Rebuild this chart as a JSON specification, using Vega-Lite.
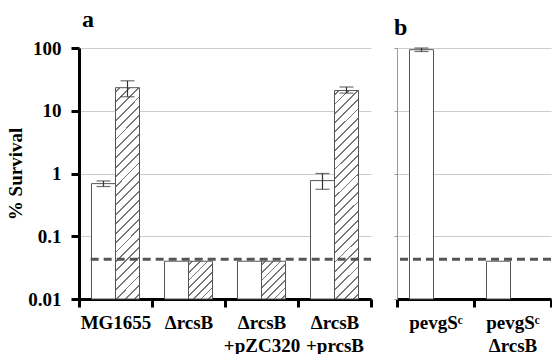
{
  "$schema": "https://vega.github.io/schema/vega-lite/v6.json",
  "background": "white",
  "padding": {"left": 6, "top": 8, "right": 0, "bottom": 0},
  "datasets": {
    "a": [
      {"strain": "MG1655", "series": "white", "value": 0.69, "lo": 0.62, "hi": 0.76},
      {"strain": "MG1655", "series": "hatched", "value": 23.3, "lo": 16.7, "hi": 30},
      {"strain": "ΔrcsB", "series": "white", "value": 0.04},
      {"strain": "ΔrcsB", "series": "hatched", "value": 0.04},
      {"strain": "ΔrcsB|+pZC320", "series": "white", "value": 0.04},
      {"strain": "ΔrcsB|+pZC320", "series": "hatched", "value": 0.04},
      {"strain": "ΔrcsB|+prcsB", "series": "white", "value": 0.77, "lo": 0.56, "hi": 1.0},
      {"strain": "ΔrcsB|+prcsB", "series": "hatched", "value": 21, "lo": 19.1, "hi": 23.9}
    ],
    "b": [
      {"strain": "pevgSᶜ", "series": "white", "value": 94, "lo": 88, "hi": 100},
      {"strain": "pevgSᶜ|ΔrcsB", "series": "white", "value": 0.04}
    ],
    "limit": [{"limit": 0.043}]
  },
  "spacing": 26,
  "bounds": "flush",
  "hconcat": [
    {
      "width": 292,
      "height": 251,
      "title": {"text": "a", "anchor": "start", "frame": "group", "fontSize": 24, "font": "Liberation Serif", "fontWeight": "bold", "baseline": "alphabetic", "offset": -12, "dx": 3, "color": "black"},
      "layer": [
        {
          "data": {"name": "a"},
          "encoding": {
            "x": {"field": "strain", "type": "nominal", "title": null, "scale": {"domain": ["MG1655", "ΔrcsB", "ΔrcsB|+pZC320", "ΔrcsB|+prcsB"], "paddingInner": 0, "paddingOuter": 0}},
            "xOffset": {"field": "series", "type": "nominal", "scale": {"domain": ["white", "hatched"], "paddingInner": 0, "paddingOuter": 0.52}}
          },
          "layer": [
            {
              "transform": [{"filter": "datum.series == 'white'"}],
              "mark": {"type": "bar", "fill": "white", "stroke": "#555555", "strokeWidth": 1},
              "encoding": {
                "y": {"field": "value", "type": "quantitative", "title": "% Survival", "scale": {"type": "log", "domain": [0.01, 100]},
                  "axis": {"values": [0.01, 0.1, 1, 10, 100], "format": "~g"}},
                "y2": {"datum": 0.01}
              }
            },
            {
              "transform": [{"filter": "datum.series == 'hatched' && datum.value > 1"}],
              "mark": {"type": "bar", "stroke": "#555555", "strokeWidth": 1,
                "fill": {"gradient": "linear", "x1": 0, "y1": 0, "x2": 0.1257, "y2": 1.1, "stops": [
                  {"offset": 0.016, "color": "white"}, {"offset": 0.016, "color": "#777777"}, {"offset": 0.024, "color": "#777777"}, {"offset": 0.024, "color": "white"},
                  {"offset": 0.056, "color": "white"}, {"offset": 0.056, "color": "#777777"}, {"offset": 0.064, "color": "#777777"}, {"offset": 0.064, "color": "white"},
                  {"offset": 0.096, "color": "white"}, {"offset": 0.096, "color": "#777777"}, {"offset": 0.104, "color": "#777777"}, {"offset": 0.104, "color": "white"},
                  {"offset": 0.136, "color": "white"}, {"offset": 0.136, "color": "#777777"}, {"offset": 0.144, "color": "#777777"}, {"offset": 0.144, "color": "white"},
                  {"offset": 0.176, "color": "white"}, {"offset": 0.176, "color": "#777777"}, {"offset": 0.184, "color": "#777777"}, {"offset": 0.184, "color": "white"},
                  {"offset": 0.216, "color": "white"}, {"offset": 0.216, "color": "#777777"}, {"offset": 0.224, "color": "#777777"}, {"offset": 0.224, "color": "white"},
                  {"offset": 0.256, "color": "white"}, {"offset": 0.256, "color": "#777777"}, {"offset": 0.264, "color": "#777777"}, {"offset": 0.264, "color": "white"},
                  {"offset": 0.296, "color": "white"}, {"offset": 0.296, "color": "#777777"}, {"offset": 0.304, "color": "#777777"}, {"offset": 0.304, "color": "white"},
                  {"offset": 0.336, "color": "white"}, {"offset": 0.336, "color": "#777777"}, {"offset": 0.344, "color": "#777777"}, {"offset": 0.344, "color": "white"},
                  {"offset": 0.376, "color": "white"}, {"offset": 0.376, "color": "#777777"}, {"offset": 0.384, "color": "#777777"}, {"offset": 0.384, "color": "white"},
                  {"offset": 0.416, "color": "white"}, {"offset": 0.416, "color": "#777777"}, {"offset": 0.424, "color": "#777777"}, {"offset": 0.424, "color": "white"},
                  {"offset": 0.456, "color": "white"}, {"offset": 0.456, "color": "#777777"}, {"offset": 0.464, "color": "#777777"}, {"offset": 0.464, "color": "white"},
                  {"offset": 0.496, "color": "white"}, {"offset": 0.496, "color": "#777777"}, {"offset": 0.504, "color": "#777777"}, {"offset": 0.504, "color": "white"},
                  {"offset": 0.536, "color": "white"}, {"offset": 0.536, "color": "#777777"}, {"offset": 0.544, "color": "#777777"}, {"offset": 0.544, "color": "white"},
                  {"offset": 0.576, "color": "white"}, {"offset": 0.576, "color": "#777777"}, {"offset": 0.584, "color": "#777777"}, {"offset": 0.584, "color": "white"},
                  {"offset": 0.616, "color": "white"}, {"offset": 0.616, "color": "#777777"}, {"offset": 0.624, "color": "#777777"}, {"offset": 0.624, "color": "white"},
                  {"offset": 0.656, "color": "white"}, {"offset": 0.656, "color": "#777777"}, {"offset": 0.664, "color": "#777777"}, {"offset": 0.664, "color": "white"},
                  {"offset": 0.696, "color": "white"}, {"offset": 0.696, "color": "#777777"}, {"offset": 0.704, "color": "#777777"}, {"offset": 0.704, "color": "white"},
                  {"offset": 0.736, "color": "white"}, {"offset": 0.736, "color": "#777777"}, {"offset": 0.744, "color": "#777777"}, {"offset": 0.744, "color": "white"},
                  {"offset": 0.776, "color": "white"}, {"offset": 0.776, "color": "#777777"}, {"offset": 0.784, "color": "#777777"}, {"offset": 0.784, "color": "white"},
                  {"offset": 0.816, "color": "white"}, {"offset": 0.816, "color": "#777777"}, {"offset": 0.824, "color": "#777777"}, {"offset": 0.824, "color": "white"},
                  {"offset": 0.856, "color": "white"}, {"offset": 0.856, "color": "#777777"}, {"offset": 0.864, "color": "#777777"}, {"offset": 0.864, "color": "white"},
                  {"offset": 0.896, "color": "white"}, {"offset": 0.896, "color": "#777777"}, {"offset": 0.904, "color": "#777777"}, {"offset": 0.904, "color": "white"},
                  {"offset": 0.936, "color": "white"}, {"offset": 0.936, "color": "#777777"}, {"offset": 0.944, "color": "#777777"}, {"offset": 0.944, "color": "white"},
                  {"offset": 0.976, "color": "white"}, {"offset": 0.976, "color": "#777777"}, {"offset": 0.984, "color": "#777777"}, {"offset": 0.984, "color": "white"}
                ]}},
              "encoding": {
                "y": {"field": "value", "type": "quantitative", "title": "% Survival"},
                "y2": {"datum": 0.01}
              }
            },
            {
              "transform": [{"filter": "datum.series == 'hatched' && datum.value <= 1"}],
              "mark": {"type": "bar", "stroke": "#555555", "strokeWidth": 1,
                "fill": {"gradient": "linear", "x1": 0, "y1": 0, "x2": 0.7398, "y2": 1.1652, "stops": [
                  {"offset": 0.048, "color": "white"}, {"offset": 0.048, "color": "#777777"}, {"offset": 0.076, "color": "#777777"}, {"offset": 0.076, "color": "white"},
                  {"offset": 0.173, "color": "white"}, {"offset": 0.173, "color": "#777777"}, {"offset": 0.201, "color": "#777777"}, {"offset": 0.201, "color": "white"},
                  {"offset": 0.298, "color": "white"}, {"offset": 0.298, "color": "#777777"}, {"offset": 0.326, "color": "#777777"}, {"offset": 0.326, "color": "white"},
                  {"offset": 0.423, "color": "white"}, {"offset": 0.423, "color": "#777777"}, {"offset": 0.451, "color": "#777777"}, {"offset": 0.451, "color": "white"},
                  {"offset": 0.548, "color": "white"}, {"offset": 0.548, "color": "#777777"}, {"offset": 0.576, "color": "#777777"}, {"offset": 0.576, "color": "white"},
                  {"offset": 0.673, "color": "white"}, {"offset": 0.673, "color": "#777777"}, {"offset": 0.701, "color": "#777777"}, {"offset": 0.701, "color": "white"},
                  {"offset": 0.798, "color": "white"}, {"offset": 0.798, "color": "#777777"}, {"offset": 0.826, "color": "#777777"}, {"offset": 0.826, "color": "white"},
                  {"offset": 0.923, "color": "white"}, {"offset": 0.923, "color": "#777777"}, {"offset": 0.951, "color": "#777777"}, {"offset": 0.951, "color": "white"}
                ]}},
              "encoding": {
                "y": {"field": "value", "type": "quantitative", "title": "% Survival"},
                "y2": {"datum": 0.01}
              }
            },
            {
              "transform": [{"filter": "isValid(datum.lo)"}],
              "mark": {"type": "rule", "color": "#333333", "strokeWidth": 1.2},
              "encoding": {
                "y": {"field": "lo", "type": "quantitative", "title": "% Survival"},
                "y2": {"field": "hi"}
              }
            },
            {
              "transform": [{"filter": "isValid(datum.lo)"}],
              "mark": {"type": "tick", "color": "#333333", "thickness": 1.2, "size": 14, "orient": "horizontal"},
              "encoding": {"y": {"field": "lo", "type": "quantitative", "title": "% Survival"}}
            },
            {
              "transform": [{"filter": "isValid(datum.lo)"}],
              "mark": {"type": "tick", "color": "#333333", "thickness": 1.2, "size": 14, "orient": "horizontal"},
              "encoding": {"y": {"field": "hi", "type": "quantitative", "title": "% Survival"}}
            }
          ]
        },
        {
          "data": {"name": "limit"},
          "mark": {"type": "rule", "color": "#555555", "strokeWidth": 3, "strokeDash": [8, 5]},
          "encoding": {
            "y": {"field": "limit", "type": "quantitative", "title": "% Survival"},
            "x": {"datum": "MG1655", "type": "nominal", "bandPosition": 0.16, "title": null},
            "x2": {"value": "width"}
          }
        }
      ]
    },
    {
      "width": 154,
      "height": 251,
      "title": {"text": "b", "anchor": "start", "frame": "group", "fontSize": 24, "font": "Liberation Serif", "fontWeight": "bold", "baseline": "alphabetic", "offset": -12, "dx": -3, "color": "black"},
      "layer": [
        {
          "data": {"name": "b"},
          "encoding": {
            "x": {"field": "strain", "type": "nominal", "title": null, "scale": {"domain": ["pevgSᶜ", "pevgSᶜ|ΔrcsB"], "paddingInner": 0, "paddingOuter": 0}},
            "xOffset": {"field": "series", "type": "nominal", "scale": {"domain": ["white"], "paddingInner": 0, "paddingOuter": 1}}
          },
          "layer": [
            {
              "mark": {"type": "bar", "fill": "white", "stroke": "#555555", "strokeWidth": 1},
              "encoding": {
                "y": {"field": "value", "type": "quantitative", "title": null, "scale": {"type": "log", "domain": [0.01, 100]},
                  "axis": {"values": [0.01, 0.1, 1, 10, 100], "labels": false, "tickSize": 3, "tickWidth": 1, "tickColor": "#999999", "domainColor": "#999999", "domainWidth": 1}},
                "y2": {"datum": 0.01}
              }
            },
            {
              "transform": [{"filter": "isValid(datum.lo)"}],
              "mark": {"type": "rule", "color": "#333333", "strokeWidth": 1.2},
              "encoding": {
                "y": {"field": "lo", "type": "quantitative", "title": null},
                "y2": {"field": "hi"}
              }
            },
            {
              "transform": [{"filter": "isValid(datum.lo)"}],
              "mark": {"type": "tick", "color": "#333333", "thickness": 1.2, "size": 14, "orient": "horizontal"},
              "encoding": {"y": {"field": "lo", "type": "quantitative", "title": null}}
            },
            {
              "transform": [{"filter": "isValid(datum.lo)"}],
              "mark": {"type": "tick", "color": "#333333", "thickness": 1.2, "size": 14, "orient": "horizontal"},
              "encoding": {"y": {"field": "hi", "type": "quantitative", "title": null}}
            }
          ]
        },
        {
          "data": {"name": "limit"},
          "mark": {"type": "rule", "color": "#555555", "strokeWidth": 3, "strokeDash": [8, 5]},
          "encoding": {
            "y": {"field": "limit", "type": "quantitative", "title": null}
          }
        }
      ]
    }
  ],
  "config": {
    "view": {"stroke": null},
    "font": "Liberation Serif",
    "axisX": {"labelAngle": 0, "tickBand": "extent", "labelExpr": "split(datum.label, '|')", "labelFont": "Liberation Serif", "labelFontSize": 19, "labelFontWeight": "bold", "labelColor": "black", "labelPadding": 6, "labelLineHeight": 23, "tickSize": 8, "tickWidth": 3, "tickColor": "black", "domainWidth": 3, "domainColor": "black", "grid": false},
    "axisY": {"titleFont": "Liberation Serif", "titleFontSize": 19, "titleFontWeight": "bold", "titleColor": "black", "titlePadding": 2, "labelFont": "Liberation Serif", "labelFontSize": 19, "labelFontWeight": "bold", "labelColor": "black", "labelPadding": 10, "tickSize": 8, "tickWidth": 3, "tickColor": "black", "domainColor": "black", "domainWidth": 3, "grid": true, "gridColor": "#cccccc", "gridWidth": 1}
  }
}
